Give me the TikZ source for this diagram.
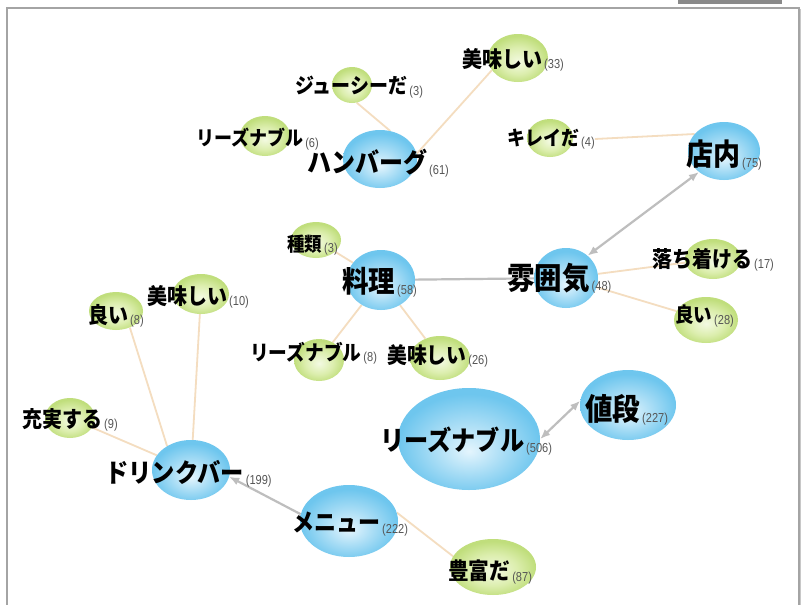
\documentclass[tikz,border=0pt]{standalone}
\usepackage{fontspec}
\newfontfamily\jp{Noto Sans CJK JP}[FakeStretch=0.9]
\newfontfamily\numf{Liberation Sans}[FakeStretch=0.85]
\usetikzlibrary{shapes.geometric,arrows.meta,backgrounds}
\pgfdeclarelayer{bottom}
\pgfsetlayers{bottom,background,main}
\definecolor{bOut}{HTML}{6EC6EE}
\definecolor{bMid}{HTML}{A6DCF5}
\definecolor{bIn}{HTML}{E4F5FD}
\definecolor{gOut}{HTML}{C0DE7C}
\definecolor{gMid}{HTML}{DCEEAE}
\definecolor{gIn}{HTML}{F3FAE2}
\definecolor{tanc}{HTML}{F4DDC0}
\definecolor{edgegray}{HTML}{BEBEBE}
\definecolor{framegray}{HTML}{A4A4A4}
\definecolor{tabgray}{HTML}{8A8A8A}
\definecolor{numgray}{HTML}{555555}
\pgfdeclareradialshading{shBlue}{\pgfpoint{0bp}{-6bp}}{color(0bp)=(bIn); color(13bp)=(bMid); color(25bp)=(bOut); color(50bp)=(bOut)}
\pgfdeclareradialshading{shGreen}{\pgfpoint{0bp}{-4bp}}{color(0bp)=(gIn); color(14bp)=(gMid); color(25bp)=(gOut); color(50bp)=(gOut)}
% #1 = width per character; the face is set 1/0.9 larger and narrowed to 0.9
\newcommand\lbl[3]{{\jp\bfseries\fontsize{\fpeval{#1/0.9}}{\fpeval{#1/0.9}}\selectfont #2}\hspace{2pt}\raisebox{-1.5pt}{\numf\fontsize{13}{13}\selectfont\color{numgray}(#3)}}
\tikzset{
  bball/.style={ellipse, inner sep=0pt, draw=none, shade, shading=shBlue},
  gball/.style={ellipse, inner sep=0pt, draw=none, shade, shading=shGreen},
  lab/.style={anchor=west, inner sep=0pt, text=black},
  tanline/.style={draw=tanc, line width=1.8pt},
  grayline/.style={draw=edgegray, line width=2.2pt},
  tipg/.tip={Latex[length=10pt,width=8pt]},
}
\begin{document}
\begin{tikzpicture}[x=1pt,y=-1pt]
\useasboundingbox (0,0) rectangle (806,605);
\begin{pgfonlayer}{bottom}
\fill[white] (0,0) rectangle (806,605);
\end{pgfonlayer}
% frame and tab
\fill[tabgray] (678,0) rectangle (782,4);
\draw[framegray, line width=1.6pt] (7,610) -- (7,8) -- (799,8) -- (799,610);
\draw[framegray!60, line width=1pt] (800.5,9) -- (800.5,610);

% ellipses
\node[gball, minimum width=60pt, minimum height=48pt] (oi33) at (518,58) {};
\node[gball, minimum width=40pt, minimum height=36pt] (juicy) at (352,85) {};
\node[gball, minimum width=50pt, minimum height=40pt] (rz6) at (265,136) {};
\node[bball, minimum width=74pt, minimum height=58pt] (hamb) at (380,159) {};
\node[gball, minimum width=46pt, minimum height=38pt] (kirei) at (550,138) {};
\node[bball, minimum width=72pt, minimum height=58pt] (tennai) at (724,151) {};
\node[bball, minimum width=64pt, minimum height=60pt] (fun) at (566,278) {};
\node[gball, minimum width=56pt, minimum height=40pt] (ochi) at (713,259) {};
\node[gball, minimum width=64pt, minimum height=46pt] (yoi28) at (706,320) {};
\node[bball, minimum width=68pt, minimum height=60pt] (ryori) at (381,280) {};
\node[gball, minimum width=50pt, minimum height=36pt] (shurui) at (316,240) {};
\node[gball, minimum width=50pt, minimum height=42pt] (rz8) at (319,360) {};
\node[gball, minimum width=60pt, minimum height=44pt] (oi26) at (440,358) {};
\node[gball, minimum width=54pt, minimum height=38pt] (yoi8) at (116,311) {};
\node[gball, minimum width=56pt, minimum height=40pt] (oi10) at (201,294) {};
\node[gball, minimum width=50pt, minimum height=40pt] (juji) at (70,418) {};
\node[bball, minimum width=78pt, minimum height=60pt] (dbar) at (191,470) {};
\node[bball, minimum width=98pt, minimum height=72pt] (menu) at (349,521) {};
\node[gball, minimum width=86pt, minimum height=56pt] (houfu) at (493,567) {};
\node[bball, minimum width=142pt, minimum height=102pt] (rz506) at (469,439) {};
\node[bball, minimum width=96pt, minimum height=70pt] (nedan) at (628,405) {};

% labels
\node[lab] (oi33L) at (462,60) {\lbl{20}{美味しい}{33}};
\node[lab] (juicyL) at (295,87) {\lbl{19}{ジューシーだ}{3}};
\node[lab] (rz6L) at (196,139) {\lbl{18}{リーズナブル}{6}};
\node[lab] (hambL) at (307,163) {\lbl{24}{ハンバーグ}{61}};
\node[lab] (kireiL) at (507,139) {\lbl{18}{キレイだ}{4}};
\node[lab] (tennaiL) at (686,155) {\lbl{27}{店内}{75}};
\node[lab] (funL) at (507,278) {\lbl{27.5}{雰囲気}{48}};
\node[lab] (ochiL) at (652,260) {\lbl{20}{落ち着ける}{17}};
\node[lab] (yoi28L) at (675,316) {\lbl{18.5}{良い}{28}};
\node[lab] (ryoriL) at (342,282) {\lbl{26.5}{料理}{58}};
\node[lab] (shuruiL) at (287,245) {\lbl{17.5}{種類}{3}};
\node[lab] (rz8L) at (250,353) {\lbl{18.7}{リーズナブル}{8}};
\node[lab] (oi26L) at (387,356) {\lbl{19.8}{美味しい}{26}};
\node[lab] (yoi8L) at (88,316) {\lbl{20}{良い}{8}};
\node[lab] (oi10L) at (147,297) {\lbl{20}{美味しい}{10}};
\node[lab] (jujiL) at (22,420) {\lbl{20}{充実する}{9}};
\node[lab] (dbarL) at (105,474) {\lbl{23.3}{ドリンクバー}{199}};
\node[lab] (menuL) at (292,524) {\lbl{22}{メニュー}{222}};
\node[lab] (houfuL) at (448,572) {\lbl{20.7}{豊富だ}{87}};
\node[lab] (rz506L) at (380,441) {\lbl{24.2}{リーズナブル}{506}};
\node[lab] (nedanL) at (585,410) {\lbl{27.5}{値段}{227}};

% connectors
\begin{pgfonlayer}{background}
\draw[tanline] (juicy.285) -- (hamb.70);
\draw[tanline] (hamb.8) -- (oi33.205);
\draw[tanline] (kireiL.east) -- (tennai.150);
\draw[grayline, tipg-tipg] (tennai.220) -- (fun.46);
\draw[grayline] (ryori) -- (fun);
\draw[tanline] (fun) -- (ochi);
\draw[tanline] (fun) -- (yoi28);
\draw[tanline] (ryori) -- (shurui);
\draw[tanline] (ryori) -- (rz8);
\draw[tanline] (ryori) -- (oi26);
\draw[tanline] (yoi8.310) -- (dbar.135);
\draw[tanline] (oi10) -- (dbar);
\draw[tanline] (juji) -- (dbar);
\draw[grayline, -tipg] (menu.172) -- (dbar.350);
\draw[tanline] (menu.10) -- (houfu.165);
\draw[grayline, tipg-tipg] (rz506.0) -- (nedan.175);
\end{pgfonlayer}
\end{tikzpicture}
\end{document}
